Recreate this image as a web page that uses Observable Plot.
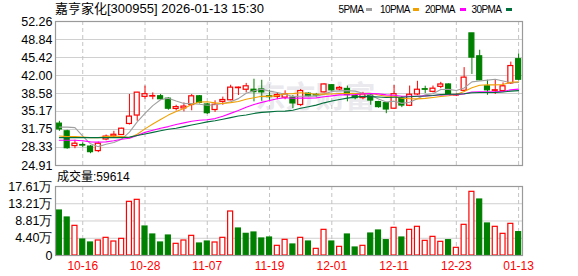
<!DOCTYPE html>
<html><head><meta charset="utf-8">
<script src="https://cdn.jsdelivr.net/npm/d3@7"></script>
<script src="https://cdn.jsdelivr.net/npm/@observablehq/plot@0.6"></script>
<style>
html,body{margin:0;padding:0;background:#fff;}
#root{position:relative;width:578px;height:276px;overflow:hidden;font-family:"Liberation Sans",Arial,sans-serif;}
#root svg{position:absolute;left:0;}
.t{position:absolute;white-space:nowrap;color:#000;line-height:1;}
.sw{position:absolute;height:3px;width:6px;}
</style></head><body><div id="root"></div>
<script>
const title = "嘉亨家化[300955] 2026-01-13 15:30";
const volLabel = "成交量:59614";
const maNames = ["5PMA", "10PMA", "20PMA", "30PMA"];
const dates = ["10-13","10-14","10-15","10-16","10-17","10-20","10-21","10-22","10-23","10-24",
  "10-27","10-28","10-29","10-30","10-31","11-03","11-04","11-05","11-06","11-07",
  "11-10","11-11","11-12","11-13","11-14","11-17","11-18","11-19","11-20","11-21",
  "11-24","11-25","11-26","11-27","11-28","12-01","12-02","12-03","12-04","12-05",
  "12-08","12-09","12-10","12-11","12-12","12-15","12-16","12-17","12-18","12-19",
  "12-22","12-23","12-24","12-25","12-26","12-29","12-30","12-31","01-12","01-13"];
const open = [32.86,31.4,28.6,28.8,28.5,27.65,29.85,30.45,30.7,32.8,
  34.4,37.95,38.0,38.06,37.6,35.65,35.75,36.4,38.05,36.5,
  35.45,37.0,37.3,39.6,39.3,39.3,39.35,38.05,37.95,37.8,
  37.8,36.4,38.55,38.3,38.8,40.15,39.35,39.45,38.1,37.7,
  38.2,36.95,36.75,35.7,37.6,36.25,38.4,39.4,38.9,39.85,
  40.3,38.2,39.1,50.0,45.65,39.95,39.1,39.05,40.5,45.1];
const close = [31.77,28.2,29.05,28.7,27.45,29.05,30.4,30.75,31.9,34.2,
  38.75,38.45,38.1,37.5,35.7,36.0,36.1,38.05,36.8,34.85,
  36.45,37.35,39.7,39.7,39.95,38.85,38.8,37.9,38.3,38.4,
  36.7,39.05,38.1,38.2,40.3,39.2,39.65,38.3,37.7,38.4,
  37.25,36.0,35.55,38.45,36.3,38.35,39.3,39.3,39.5,40.3,
  38.4,38.3,41.6,45.4,41.1,39.2,39.2,39.95,43.8,41.2];
const high = [33.3,31.6,29.7,29.2,28.7,29.35,30.7,31.4,32.0,38.4,
  38.8,40.0,38.7,38.4,37.8,36.35,36.8,38.4,38.2,36.7,
  37.2,37.9,40.15,39.8,40.5,41.3,41.1,39.2,38.75,39.1,
  38.2,39.35,38.7,38.6,40.4,40.3,39.9,40.0,38.3,38.8,
  38.4,37.1,36.9,40.1,38.0,40.0,40.9,39.97,40.0,40.7,
  40.4,38.5,43.5,50.0,46.8,41.1,41.1,40.6,44.55,46.1];
const low = [31.4,28.0,28.1,28.3,27.15,27.35,29.6,30.1,30.6,32.6,
  33.3,37.5,37.4,37.3,35.4,35.26,35.1,35.3,36.6,34.6,
  35.0,36.35,37.2,38.2,38.7,37.0,37.1,37.3,37.4,37.4,
  35.7,36.1,37.9,37.8,38.7,39.0,39.1,37.0,37.4,37.4,
  36.35,35.8,34.75,35.6,35.9,36.1,38.2,38.57,38.7,39.5,
  38.3,38.0,38.9,42.2,41.0,38.25,38.4,38.9,40.3,41.0];
// volume in 万 (10k shares)
const volume = [11.48,9.70,7.57,4.08,3.32,3.83,4.51,3.57,4.25,13.70,
  14.21,7.40,5.36,3.32,5.10,2.98,3.83,5.02,3.06,3.57,
  3.32,4.51,11.23,6.89,5.53,5.87,4.34,4.59,2.47,4.00,
  2.81,4.51,3.57,1.70,6.55,3.57,2.21,5.36,2.04,2.47,
  5.61,6.38,3.91,7.06,4.59,6.55,7.32,3.74,4.76,3.49,
  3.91,1.96,7.83,16.25,14.29,8.17,7.32,5.53,8.08,5.9614];
// 1 = up day, -1 = down day (volume colour)
const volDir = [-1,-1,1,-1,-1,1,1,1,1,1,
  1,-1,-1,-1,-1,1,1,1,-1,-1,
  1,1,1,-1,-1,-1,-1,-1,1,1,
  -1,1,-1,1,1,-1,1,-1,-1,1,
  -1,-1,-1,1,-1,1,1,1,1,1,
  -1,1,1,1,-1,-1,1,1,1,-1];
const ma5 = [32.2,32.2,32.1,30.5,29.03,28.49,28.93,29.27,29.91,31.26,
  33.2,34.81,36.28,37.4,37.7,37.15,36.68,36.67,36.53,36.36,
  36.45,36.7,37.03,37.61,38.63,39.11,39.4,39.04,38.76,38.45,
  38.02,38.07,38.11,38.09,38.47,38.97,39.09,39.13,39.03,38.65,
  38.26,37.53,36.98,37.13,36.71,36.93,37.59,38.34,38.55,39.35,
  39.36,39.16,39.62,40.8,40.96,41.12,41.3,40.97,40.65,40.67];
const ma10 = [30.5,30.4,30.4,30.3,30.2,30.2,30.4,30.5,30.4,30.15,
  30.85,31.87,32.78,33.66,34.48,35.18,35.75,36.48,36.97,37.03,
  36.8,36.69,36.85,37.07,37.5,37.78,38.05,38.04,38.19,38.54,
  38.57,38.74,38.58,38.43,38.46,38.5,38.58,38.62,38.56,38.56,
  38.62,38.31,38.06,38.08,37.68,37.6,37.56,37.66,37.84,38.03,
  38.15,38.38,38.98,39.68,40.16,40.24,40.23,40.3,40.73,40.82];
const ma20 = [29.7,29.7,29.7,29.6,29.4,29.35,29.4,29.6,29.9,30.1,
  30.6,31.2,31.6,32.0,32.3,32.7,33.0,33.3,33.5,33.59,
  33.82,34.28,34.81,35.36,35.99,36.48,36.9,37.26,37.58,37.79,
  37.68,37.71,37.71,37.75,37.98,38.14,38.32,38.33,38.37,38.55,
  38.59,38.52,38.32,38.25,38.07,38.05,38.07,38.14,38.2,38.3,
  38.38,38.34,38.52,38.88,38.92,38.92,38.9,38.98,39.28,39.42];
const ma30 = [30.2,30.2,30.2,30.2,30.2,30.2,30.2,30.2,30.2,30.3,
  30.6,30.9,31.2,31.5,31.8,32.0,32.3,32.6,32.9,33.2,
  33.4,33.7,34.0,34.3,34.5,34.8,35.0,35.1,35.2,35.24,
  35.4,35.77,36.07,36.38,36.81,37.15,37.46,37.71,37.9,38.04,
  37.99,37.91,37.83,37.86,37.88,37.96,38.06,38.1,38.2,38.38,
  38.44,38.47,38.54,38.73,38.77,38.78,38.79,38.86,39.04,39.14];
const priceTicks = [24.91, 28.33, 31.75, 35.17, 38.58, 42.00, 45.42, 48.84, 52.26];
const volTicks = [0, 4.40, 8.81, 13.21, 17.61];
const dateTicks = ["10-16","10-28","11-07","11-19","12-01","12-11","12-23","01-13"];

const RED = "#ff0000", GREEN = "#008000";
const maColors = ["#a0a0a0", "#f0a000", "#ff00ff", "#006f3c"];
const maSeries = [ma5, ma10, ma20, ma30];

const candles = dates.map((d, i) => ({date: d, open: open[i], close: close[i], high: high[i], low: low[i], up: close[i] > open[i]}));
const vols = dates.map((d, i) => ({date: d, vol: volume[i], up: volDir[i] > 0}));
const maRows = maNames.flatMap((name, k) => dates.map((d, i) => ({date: d, value: maSeries[k][i], ma: name, color: maColors[k]})));

const W = 578, ML = 55, MR = 56;
const xOpts = {type: "band", domain: dates, paddingInner: 0.36, paddingOuter: 0.18, axis: null};
const font = {fontFamily: "'Liberation Sans', Arial, sans-serif", fontSize: "12.5px", color: "#000", background: "transparent", overflow: "visible"};

const price = Plot.plot({
  width: W, height: 172, marginLeft: ML, marginRight: MR, marginTop: 21, marginBottom: 7,
  style: font,
  x: xOpts,
  y: {domain: [24.91, 52.26], axis: null},
  color: {type: "identity"},
  marks: [
    Plot.text(["东方财富"], {frameAnchor: "top-left", dx: 200, dy: 64, fill: "#e9e9ee", fontSize: 30, fontWeight: "bold", fontFamily: "Noto Sans CJK SC", textAnchor: "start"}),
    Plot.ruleY(priceTicks, {stroke: "#d0d0d0"}),
    Plot.ruleX(dateTicks, {stroke: "#c4c4c4", strokeDasharray: "4,3"}),
    Plot.ruleX(candles, {x: "date", y1: "low", y2: "high", stroke: d => d.up ? RED : GREEN}),
    Plot.barY(candles, {x: "date", y1: "open", y2: "close", fill: d => d.up ? "#ffffff" : GREEN, stroke: d => d.up ? RED : GREEN, strokeWidth: 1.2}),
    Plot.lineY(maRows, {x: "date", y: "value", z: "ma", stroke: "color", strokeWidth: 1.1}),
    Plot.axisY({ticks: priceTicks, tickFormat: d => d.toFixed(2), tickSize: 0, tickPadding: 3, fontSize: 12.5, label: null}),
    Plot.frame({stroke: "#9a9a9a", strokeWidth: 1.2})
  ]
});

const vol = Plot.plot({
  width: W, height: 104, marginLeft: ML, marginRight: MR, marginTop: 14, marginBottom: 21,
  style: font,
  x: xOpts,
  y: {domain: [0, 17.61], axis: null},
  color: {type: "identity"},
  marks: [
    Plot.ruleY(volTicks, {stroke: "#d0d0d0"}),
    Plot.ruleX(dateTicks, {stroke: "#c4c4c4", strokeDasharray: "4,3"}),
    Plot.barY(vols, {x: "date", y: "vol", fill: d => d.up ? "#ffffff" : GREEN, stroke: d => d.up ? RED : GREEN, strokeWidth: 1.2}),
    Plot.axisY({ticks: volTicks, tickFormat: d => d === 0 ? "0" : d.toFixed(2) + "万", tickSize: 0, tickPadding: 3, fontSize: 12.5, label: null}),
    Plot.axisX({ticks: dateTicks, tickSize: 0, tickPadding: 6, fill: RED, fontSize: 12, label: null}),
    Plot.frame({stroke: "#9a9a9a", strokeWidth: 1.2})
  ]
});

const root = document.getElementById("root");
price.style.top = "0px";
vol.style.top = "172px";
root.appendChild(price);
root.appendChild(vol);

function addText(txt, left, top, size, extra) {
  const el = document.createElement("div");
  el.className = "t";
  el.textContent = txt;
  el.style.left = left + "px";
  el.style.top = top + "px";
  el.style.fontSize = size + "px";
  if (extra) Object.assign(el.style, extra);
  root.appendChild(el);
  return el;
}
addText(title, 55, 2, 13, {fontFamily: "'Liberation Sans','Noto Sans CJK SC',sans-serif"});
addText(volLabel, 57, 171, 12, {fontFamily: "'Liberation Sans','Noto Sans CJK SC',sans-serif"});
const legX = [338.5, 380, 425, 471.5];
const swX = [365.5, 413, 460, 505.5];
maNames.forEach((n, k) => {
  addText(n, legX[k], 4.5, 10, {letterSpacing: "-0.6px"});
  const s = document.createElement("div");
  s.className = "sw";
  s.style.left = swX[k] + "px";
  s.style.top = "8px";
  s.style.background = maColors[k];
  root.appendChild(s);
});
</script></body></html>
